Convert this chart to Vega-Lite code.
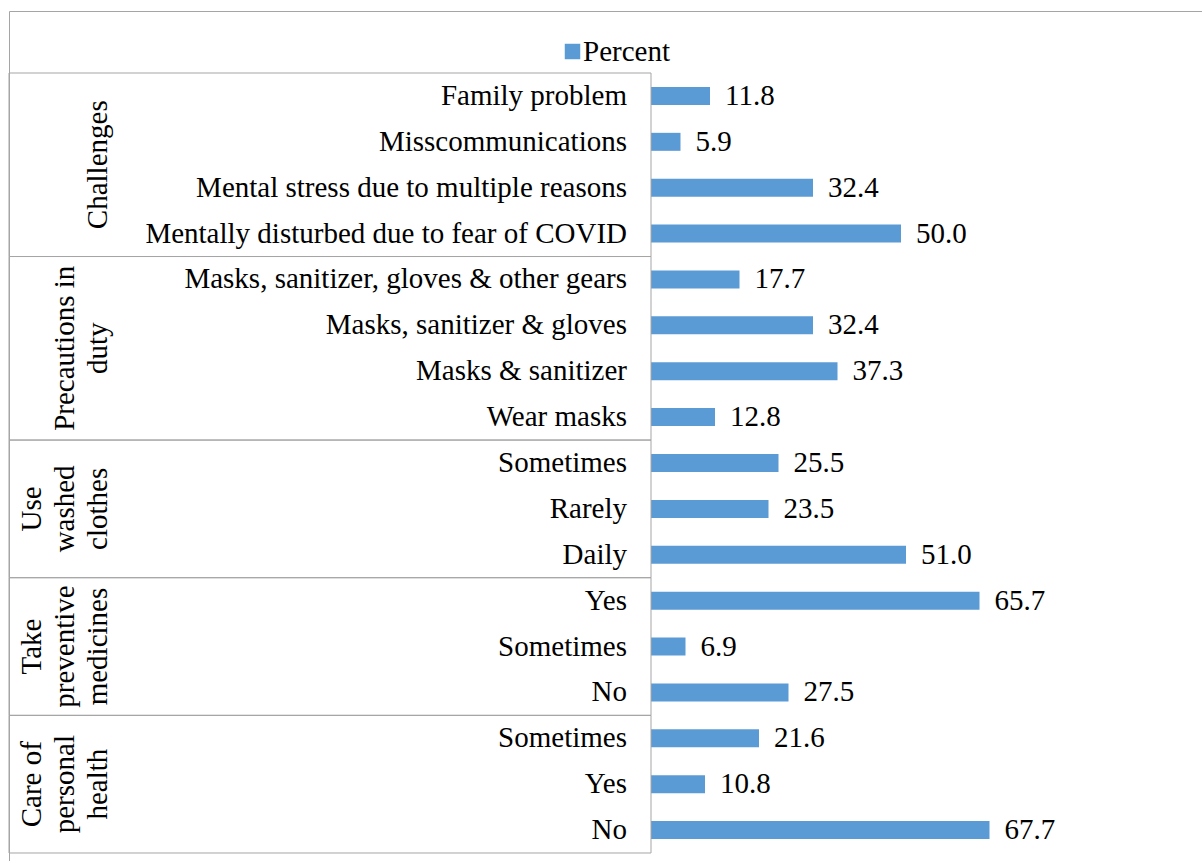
{
  "$schema": "https://vega.github.io/schema/vega-lite/v6.json",
  "autosize": "none",
  "padding": {"left": 9, "top": 11, "right": 0, "bottom": 0},
  "width": 1200,
  "height": 860,
  "background": "#ffffff",
  "config": {
    "view": {"stroke": "#a5a5a5", "strokeWidth": 1},
    "font": "Times New Roman, Liberation Serif, serif"
  },
  "datasets": {
    "bars": [
      {"key": "Challenges|Family problem", "group": "Challenges", "item": "Family problem", "percent": 11.8},
      {"key": "Challenges|Misscommunications", "group": "Challenges", "item": "Misscommunications", "percent": 5.9},
      {"key": "Challenges|Mental stress due to multiple reasons", "group": "Challenges", "item": "Mental stress due to multiple reasons", "percent": 32.4},
      {"key": "Challenges|Mentally disturbed due to fear of COVID", "group": "Challenges", "item": "Mentally disturbed due to fear of COVID", "percent": 50.0},
      {"key": "Precautions in duty|Masks, sanitizer, gloves & other gears", "group": "Precautions in duty", "item": "Masks, sanitizer, gloves & other gears", "percent": 17.7},
      {"key": "Precautions in duty|Masks, sanitizer & gloves", "group": "Precautions in duty", "item": "Masks, sanitizer & gloves", "percent": 32.4},
      {"key": "Precautions in duty|Masks & sanitizer", "group": "Precautions in duty", "item": "Masks & sanitizer", "percent": 37.3},
      {"key": "Precautions in duty|Wear masks", "group": "Precautions in duty", "item": "Wear masks", "percent": 12.8},
      {"key": "Use washed clothes|Sometimes", "group": "Use washed clothes", "item": "Sometimes", "percent": 25.5},
      {"key": "Use washed clothes|Rarely", "group": "Use washed clothes", "item": "Rarely", "percent": 23.5},
      {"key": "Use washed clothes|Daily", "group": "Use washed clothes", "item": "Daily", "percent": 51.0},
      {"key": "Take preventive medicines|Yes", "group": "Take preventive medicines", "item": "Yes", "percent": 65.7},
      {"key": "Take preventive medicines|Sometimes", "group": "Take preventive medicines", "item": "Sometimes", "percent": 6.9},
      {"key": "Take preventive medicines|No", "group": "Take preventive medicines", "item": "No", "percent": 27.5},
      {"key": "Care of personal health|Sometimes", "group": "Care of personal health", "item": "Sometimes", "percent": 21.6},
      {"key": "Care of personal health|Yes", "group": "Care of personal health", "item": "Yes", "percent": 10.8},
      {"key": "Care of personal health|No", "group": "Care of personal health", "item": "No", "percent": 67.7}
    ],
    "groups": [
      {"group": "Challenges", "l1": "", "l2": "", "l3": "Challenges", "first": "Challenges|Family problem", "last": "Challenges|Mentally disturbed due to fear of COVID", "mid": "Challenges|Mental stress due to multiple reasons"},
      {"group": "Precautions in duty", "l1": "", "l2": "Precautions in", "l3": "duty", "first": "Precautions in duty|Masks, sanitizer, gloves & other gears", "last": "Precautions in duty|Wear masks", "mid": "Precautions in duty|Masks & sanitizer"},
      {"group": "Use washed clothes", "l1": "Use", "l2": "washed", "l3": "clothes", "first": "Use washed clothes|Sometimes", "last": "Use washed clothes|Daily", "mid": "Use washed clothes|Rarely"},
      {"group": "Take preventive medicines", "l1": "Take", "l2": "preventive", "l3": "medicines", "first": "Take preventive medicines|Yes", "last": "Take preventive medicines|No", "mid": "Take preventive medicines|Sometimes"},
      {"group": "Care of personal health", "l1": "Care of", "l2": "personal", "l3": "health", "first": "Care of personal health|Sometimes", "last": "Care of personal health|No", "mid": "Care of personal health|Yes"}
    ]
  },
  "layer": [
    {
      "data": {"name": "bars"},
      "mark": {"type": "bar", "size": 18},
      "encoding": {
        "y": {"field": "key", "type": "nominal", "sort": null, "axis": null,
              "scale": {"paddingInner": 0, "paddingOuter": 0.8718, "align": 0.775}},
        "x": {"field": "percent", "type": "quantitative", "axis": null,
              "scale": {"domain": [-128.4, 111.6], "nice": false, "zero": false}},
        "x2": {"datum": 0},
        "color": {"datum": "Percent", "type": "nominal", "scale": {"range": ["#5b9bd5"]},
                  "legend": {"title": null, "orient": "none", "legendX": 549, "legendY": 26, "padding": 0,
                             "symbolType": "square", "symbolSize": 240, "symbolStrokeWidth": 0, "symbolOpacity": 1,
                             "labelFontSize": 29, "labelColor": "#000000", "labelOffset": -4}}
      }
    },
    {
      "data": {"name": "bars"},
      "mark": {"type": "text", "align": "left", "baseline": "middle", "dx": 15, "fontSize": 29, "color": "#000000"},
      "encoding": {
        "y": {"field": "key", "type": "nominal", "sort": null},
        "x": {"field": "percent", "type": "quantitative"},
        "text": {"field": "percent", "type": "quantitative", "format": ".1f"}
      }
    },
    {
      "data": {"name": "bars"},
      "mark": {"type": "text", "align": "right", "baseline": "middle", "dx": -24, "fontSize": 29, "color": "#000000"},
      "encoding": {
        "y": {"field": "key", "type": "nominal", "sort": null},
        "x": {"datum": 0, "type": "quantitative"},
        "text": {"field": "item", "type": "nominal"}
      }
    },
    {
      "data": {"name": "groups"},
      "mark": {"type": "rect", "fill": "transparent", "stroke": "#a5a5a5", "strokeWidth": 1},
      "encoding": {
        "x": {"datum": -128.4, "type": "quantitative"},
        "x2": {"datum": 0},
        "y": {"field": "first", "type": "nominal", "sort": null, "bandPosition": 0},
        "y2": {"field": "last", "bandPosition": 1}
      }
    },
    {
      "data": {"name": "groups"},
      "transform": [{"filter": {"field": "group", "oneOf": ["Challenges", "Precautions in duty"]}}],
      "mark": {"type": "text", "angle": 270, "align": "center", "baseline": "alphabetic", "fontSize": 29, "color": "#000000"},
      "encoding": {
        "y": {"field": "mid", "type": "nominal", "sort": null, "bandPosition": 0},
        "x": {"datum": -108.8, "type": "quantitative"},
        "text": {"field": "l3", "type": "nominal"}
      }
    },
    {
      "data": {"name": "groups"},
      "transform": [{"filter": {"field": "group", "oneOf": ["Challenges", "Precautions in duty"]}}],
      "mark": {"type": "text", "angle": 270, "align": "center", "baseline": "alphabetic", "dy": -33, "fontSize": 29, "color": "#000000"},
      "encoding": {
        "y": {"field": "mid", "type": "nominal", "sort": null, "bandPosition": 0},
        "x": {"datum": -108.8, "type": "quantitative"},
        "text": {"field": "l2", "type": "nominal"}
      }
    },
    {
      "data": {"name": "groups"},
      "transform": [{"filter": {"field": "group", "oneOf": ["Use washed clothes", "Take preventive medicines", "Care of personal health"]}}],
      "mark": {"type": "text", "angle": 270, "align": "center", "baseline": "alphabetic", "fontSize": 29, "color": "#000000"},
      "encoding": {
        "y": {"field": "mid", "type": "nominal", "sort": null, "bandPosition": 0.5},
        "x": {"datum": -108.8, "type": "quantitative"},
        "text": {"field": "l3", "type": "nominal"}
      }
    },
    {
      "data": {"name": "groups"},
      "transform": [{"filter": {"field": "group", "oneOf": ["Use washed clothes", "Take preventive medicines", "Care of personal health"]}}],
      "mark": {"type": "text", "angle": 270, "align": "center", "baseline": "alphabetic", "dy": -33, "fontSize": 29, "color": "#000000"},
      "encoding": {
        "y": {"field": "mid", "type": "nominal", "sort": null, "bandPosition": 0.5},
        "x": {"datum": -108.8, "type": "quantitative"},
        "text": {"field": "l2", "type": "nominal"}
      }
    },
    {
      "data": {"name": "groups"},
      "transform": [{"filter": {"field": "group", "oneOf": ["Use washed clothes", "Take preventive medicines", "Care of personal health"]}}],
      "mark": {"type": "text", "angle": 270, "align": "center", "baseline": "alphabetic", "dy": -66, "fontSize": 29, "color": "#000000"},
      "encoding": {
        "y": {"field": "mid", "type": "nominal", "sort": null, "bandPosition": 0.5},
        "x": {"datum": -108.8, "type": "quantitative"},
        "text": {"field": "l1", "type": "nominal"}
      }
    }
  ]
}
